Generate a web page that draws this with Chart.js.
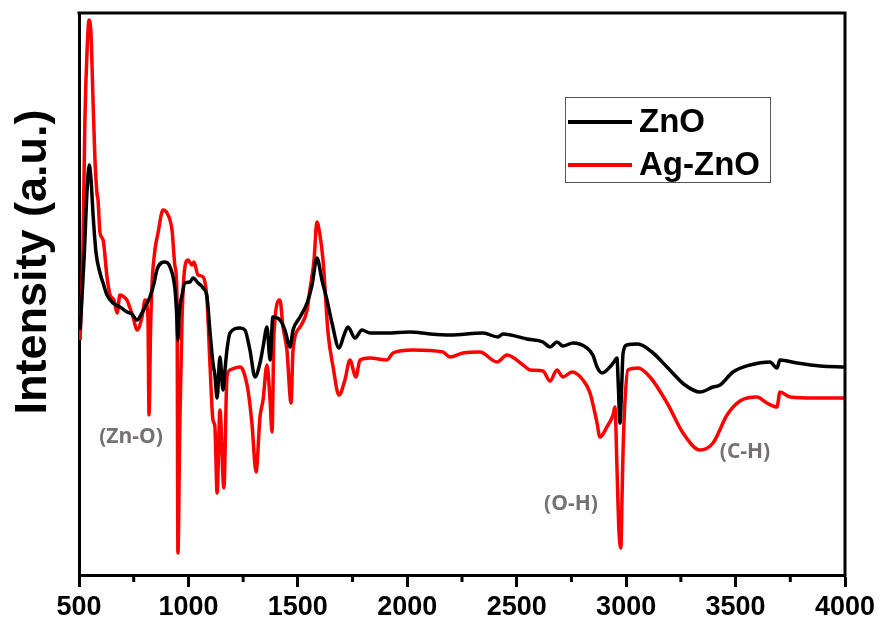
<!DOCTYPE html>
<html>
<head>
<meta charset="utf-8">
<script src="https://cdn.jsdelivr.net/npm/chart.js@4.4.1/dist/chart.umd.min.js"></script>
<style>
    body { margin: 0; background: #fff; }
    #wrap { width: 882px; height: 622px; position: relative; }
</style>
</head>
<body>
<div id="wrap"><canvas id="ftirChart"></canvas></div>
<script>
// wavenumber (cm-1) and intensity (a.u.)
const znoWavenumber = [505, 523, 537, 547, 555, 565, 578, 596, 610, 628, 655, 687, 719, 742, 765, 788, 806, 824, 843, 856, 875, 893, 916, 939, 946, 952, 958, 971, 984, 1007, 1021, 1044, 1067, 1085, 1099, 1112, 1121, 1131, 1144, 1158, 1167, 1176, 1190, 1236, 1258, 1281, 1304, 1327, 1341, 1359, 1373, 1386, 1418, 1441, 1464, 1478, 1510, 1542, 1565, 1587, 1610, 1633, 1656, 1688, 1711, 1729, 1761, 1793, 1830, 1907, 2012, 2104, 2195, 2346, 2414, 2437, 2547, 2620, 2652, 2684, 2711, 2757, 2821, 2848, 2867, 2890, 2926, 2944, 2958, 2965, 2972, 2979, 2986, 3004, 3054, 3118, 3191, 3269, 3337, 3397, 3429, 3488, 3566, 3657, 3689, 3703, 3781, 3886, 4000];
const znoIntensity = [245, 315, 385, 410, 395, 358, 322, 302, 292, 280, 272, 268, 263, 261, 255, 262, 270, 278, 292, 305, 312, 313, 308, 285, 262, 235, 262, 280, 292, 293, 297, 292, 287, 278, 242, 212, 200, 177, 218, 185, 205, 225, 242, 247, 245, 225, 198, 212, 228, 248, 215, 258, 255, 245, 228, 245, 258, 272, 290, 317, 295, 275, 252, 227, 240, 248, 237, 245, 242, 242, 243, 241, 240, 242, 238, 241, 236, 233, 228, 233, 229, 232, 227, 220, 208, 202, 208, 213, 217, 185, 152, 185, 222, 230, 231, 223, 207, 190, 183, 188, 190, 203, 210, 213, 207, 215, 212, 209, 208];

const agWavenumber = [505, 518, 527, 537, 546, 555, 564, 573, 582, 587, 596, 610, 628, 642, 660, 674, 687, 706, 719, 733, 747, 765, 788, 802, 815, 820, 827, 834, 847, 861, 884, 902, 925, 939, 948, 952, 961, 971, 984, 998, 1016, 1025, 1044, 1067, 1085, 1099, 1112, 1121, 1131, 1144, 1162, 1176, 1190, 1236, 1249, 1272, 1290, 1309, 1327, 1341, 1359, 1373, 1382, 1391, 1418, 1432, 1450, 1469, 1478, 1510, 1542, 1555, 1574, 1587, 1601, 1615, 1638, 1661, 1688, 1715, 1738, 1765, 1784, 1830, 1907, 1935, 2026, 2163, 2195, 2255, 2332, 2410, 2456, 2529, 2561, 2620, 2652, 2684, 2711, 2753, 2803, 2835, 2867, 2880, 2912, 2940, 2949, 2958, 2967, 2976, 2981, 2986, 2995, 3008, 3054, 3109, 3187, 3260, 3337, 3397, 3461, 3520, 3598, 3643, 3689, 3703, 3749, 3863, 4000];
const agIntensity = [235, 325, 455, 525, 555, 540, 475, 415, 382, 375, 342, 335, 298, 280, 275, 262, 280, 278, 275, 267, 258, 245, 258, 275, 258, 160, 245, 292, 325, 342, 365, 362, 345, 308, 275, 22, 155, 258, 308, 315, 310, 313, 300, 298, 275, 208, 155, 148, 82, 165, 87, 198, 205, 208, 205, 185, 152, 103, 158, 175, 210, 175, 143, 242, 275, 248, 225, 172, 225, 248, 265, 285, 315, 353, 340, 315, 242, 208, 180, 195, 215, 198, 215, 217, 215, 222, 225, 223, 218, 222, 223, 213, 220, 210, 205, 204, 194, 205, 198, 203, 195, 182, 152, 138, 148, 160, 168, 108, 45, 27, 75, 125, 175, 205, 207, 198, 172, 142, 125, 132, 160, 174, 178, 172, 168, 183, 178, 177, 177];

const seriesNames = ['ZnO', 'Ag-ZnO'];
const xTickStep = 500;
const xMinorStep = 250;
const bandLabels = ['(Zn-O)', '(O-H)', '(C-H)'];

const toPoints = (xs, ys) => xs.map((x, i) => ({ x: x, y: ys[i] }));

// frame, minor ticks, y title, legend box and band labels
const extrasPlugin = {
    id: 'extras',
    afterDraw(chart) {
        const ctx = chart.ctx;
        const area = chart.chartArea;
        const xs = chart.scales.x;

        ctx.save();
        ctx.strokeStyle = '#000';
        ctx.lineWidth = 3;
        ctx.beginPath();
        ctx.moveTo(area.left - 1.5, area.top);
        ctx.lineTo(area.right, area.top);
        ctx.lineTo(area.right, area.bottom + 1.5);
        ctx.stroke();

        for (let v = 500 + xMinorStep; v < 4000; v += xTickStep) {
            const px = xs.getPixelForValue(v);
            ctx.beginPath();
            ctx.moveTo(px, area.bottom);
            ctx.lineTo(px, area.bottom + 7);
            ctx.stroke();
        }

        ctx.fillStyle = '#000';
        ctx.font = 'bold 45px Arial, "Liberation Sans", sans-serif';
        ctx.textAlign = 'center';
        ctx.textBaseline = 'middle';
        ctx.translate(34, 262);
        ctx.rotate(-Math.PI / 2);
        ctx.fillText('Intensity (a.u.)', 0, 0);
        ctx.restore();

        // legend
        ctx.save();
        ctx.strokeStyle = '#555';
        ctx.lineWidth = 1;
        ctx.strokeRect(565.5, 97.5, 205, 85);
        chart.data.datasets.forEach((ds, i) => {
            const ly = 122 + i * 43;
            ctx.strokeStyle = ds.borderColor;
            ctx.lineWidth = 4;
            ctx.beginPath();
            ctx.moveTo(568, ly);
            ctx.lineTo(632, ly);
            ctx.stroke();
            ctx.fillStyle = '#000';
            ctx.font = 'bold 33px Arial, "Liberation Sans", sans-serif';
            ctx.textAlign = 'left';
            ctx.textBaseline = 'middle';
            ctx.fillText(ds.label, 639, ly + 1);
        });
        ctx.restore();

        // band assignments
        ctx.save();
        ctx.fillStyle = '#767171';
        ctx.font = 'bold 21px "Open Sans", sans-serif';
        ctx.textAlign = 'center';
        ctx.textBaseline = 'middle';
        ctx.fillText(bandLabels[0], 131, 437);
        ctx.fillText(bandLabels[1], 571, 504);
        ctx.fillText(bandLabels[2], 745, 452);
        ctx.restore();
    }
};

new Chart(document.getElementById('ftirChart'), {
    type: 'line',
    data: {
        datasets: [{
            label: seriesNames[0],
            data: toPoints(znoWavenumber, znoIntensity),
            borderColor: '#000000',
            borderWidth: 3.5,
            pointRadius: 0,
            cubicInterpolationMode: 'monotone'
        }, {
            label: seriesNames[1],
            data: toPoints(agWavenumber, agIntensity),
            borderColor: '#ff0000',
            borderWidth: 3.5,
            pointRadius: 0,
            cubicInterpolationMode: 'monotone'
        }]
    },
    options: {
        responsive: true,
        maintainAspectRatio: false,
        animation: false,
        layout: { padding: { top: 13, right: 37, left: 0, bottom: 0 } },
        plugins: {
            legend: { display: false },
            tooltip: { enabled: false }
        },
        scales: {
            x: {
                type: 'linear',
                min: 500,
                max: 4000,
                afterFit(scale) { scale.height = 47; },
                ticks: {
                    stepSize: xTickStep,
                    color: '#000',
                    padding: 4,
                    maxRotation: 0,
                    autoSkip: false,
                    font: { family: 'Arial, "Liberation Sans", sans-serif', size: 27, weight: 'bold' },
                    callback: v => String(v)
                },
                grid: { drawOnChartArea: false, tickLength: 12, tickWidth: 3, tickColor: '#000' },
                border: { color: '#000', width: 3 }
            },
            y: {
                min: 0,
                max: 562,
                afterFit(scale) { scale.width = 79; },
                ticks: { display: false },
                grid: { drawOnChartArea: false, drawTicks: false },
                border: { color: '#000', width: 3 }
            }
        }
    },
    plugins: [extrasPlugin]
});
</script>
</body>
</html>
